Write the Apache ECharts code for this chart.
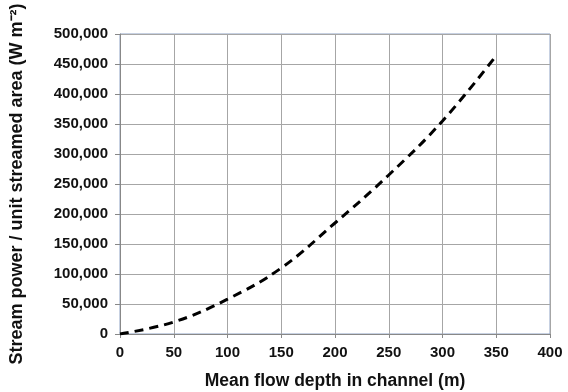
<!DOCTYPE html>
<html><head><meta charset="utf-8">
<script src="https://cdn.jsdelivr.net/npm/echarts@6/dist/echarts.min.js"></script>
<style>html,body{margin:0;padding:0;background:#fff}#c{width:568px;height:392px}</style>
</head><body><div id="c"></div>
<script>
const depths = [0, 50, 100, 150, 200, 250, 300, 350];
const power = [0, 20000, 58000, 110000, 185000, 265000, 355000, 464000];
const xName = 'Mean flow depth in channel (m)';
const yName = 'Stream power / unit streamed area (W m⁻²)';

const chart = echarts.init(document.getElementById('c'));
const font = 'Liberation Sans, Arial, sans-serif';
chart.setOption({
  animation: false,
  grid: {left: 120, right: 18, top: 34, bottom: 58, show: true, borderColor: '#8fa3c4', borderWidth: 1,
    containLabel: false, outerBoundsMode: 'none'},
  xAxis: {
    type: 'value', min: 0, max: 400, interval: 50,
    name: xName, nameLocation: 'middle', nameGap: 38,
    nameTextStyle: {fontFamily: font, fontWeight: 'bold', fontSize: 17.5, color: '#111'},
    axisLine: {lineStyle: {color: '#888', width: 1}},
    axisTick: {show: true, length: 4, lineStyle: {color: '#888'}},
    axisLabel: {fontFamily: font, fontWeight: 'bold', fontSize: 15, color: '#111', margin: 11},
    splitLine: {lineStyle: {color: '#a6a6a6', width: 1}}
  },
  yAxis: {
    type: 'value', min: 0, max: 500000, interval: 50000,
    name: yName, nameLocation: 'middle', nameGap: 94,
    nameTextStyle: {fontFamily: font, fontWeight: 'bold', fontSize: 18, color: '#111'},
    axisLine: {show: true, lineStyle: {color: '#888', width: 1}},
    axisTick: {show: true, length: 5, lineStyle: {color: '#888'}},
    axisLabel: {fontFamily: font, fontWeight: 'bold', fontSize: 15, color: '#111', margin: 12,
      formatter: v => v.toLocaleString('en-US')},
    splitLine: {lineStyle: {color: '#a6a6a6', width: 1}}
  },
  series: [{
    type: 'line', data: depths.map((d, i) => [d, power[i]]),
    smooth: 0.4, showSymbol: false,
    lineStyle: {color: '#000', width: 3, type: [9, 6]}
  }]
});
</script></body></html>
